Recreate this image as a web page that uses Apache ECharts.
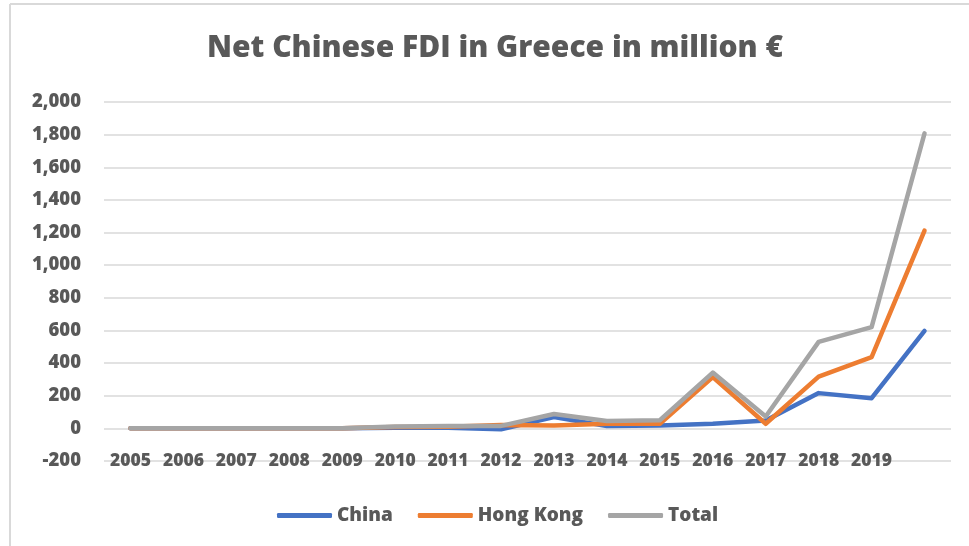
<!DOCTYPE html>
<html>
<head>
<meta charset="utf-8">
<style>
  html, body { margin: 0; padding: 0; background: #ffffff; }
  #chart { width: 969px; height: 546px; }
</style>
<script src="https://cdn.jsdelivr.net/npm/echarts@6/dist/echarts.min.js"></script>
</head>
<body>
<div id="chart"></div>
<script>
// Years on the category axis; the last point has no printed label
const years = ['2005', '2006', '2007', '2008', '2009', '2010', '2011', '2012',
               '2013', '2014', '2015', '2016', '2017', '2018', '2019', ''];

// Net FDI flows, million €
const china    = [0, 0, 0, 0, 0, 3, 4, -6, 69, 15, 17, 28, 48, 216, 185, 597];
const hongKong = [0, 0, 0, 0, 0, 8, 10, 20, 17, 28, 28, 314, 28, 317, 436, 1212];
const total    = [0, 1, 1, 0, 1, 12, 14, 15, 88, 45, 50, 342, 73, 530, 620, 1808];

const yTicks = { min: -200, max: 2000, step: 200 };

const FONT = '"Open Sans"';
const TEXT = '#595959';
const WEIGHT = 800;

const chart = echarts.init(document.getElementById('chart'), null, { renderer: 'canvas' });

function lineSeries(name, data, color) {
  return {
    name: name,
    type: 'line',
    data: data,
    symbol: 'none',
    smooth: false,
    lineStyle: { color: color, width: 4.5, cap: 'round', join: 'round' },
    itemStyle: { color: color },
    emphasis: { disabled: true }
  };
}

chart.setOption({
  backgroundColor: '#ffffff',
  animation: false,
  title: {
    text: 'Net Chinese FDI in Greece in million €',
    left: 202,
    top: 28,
    textStyle: { fontFamily: FONT, fontWeight: WEIGHT, fontSize: 30, color: TEXT }
  },
  legend: {
    bottom: 16,
    left: 272,
    icon: 'roundRect',
    itemWidth: 55,
    itemHeight: 5,
    itemGap: 25,
    textStyle: { fontFamily: FONT, fontWeight: WEIGHT, fontSize: 19, color: TEXT },
    data: ['China', 'Hong Kong', 'Total']
  },
  grid: { left: 104, right: 18, top: 102, bottom: 85 },
  xAxis: {
    type: 'category',
    data: years,
    boundaryGap: true,
    axisLine: { show: false },
    axisTick: { show: false },
    axisLabel: {
      interval: 0,
      margin: 0,
      verticalAlign: 'middle',
      fontFamily: FONT, fontWeight: WEIGHT, fontSize: 17.5, color: TEXT
    }
  },
  yAxis: {
    type: 'value',
    min: yTicks.min,
    max: yTicks.max,
    interval: yTicks.step,
    axisLine: { show: false },
    axisTick: { show: false },
    splitLine: { lineStyle: { color: '#d9d9d9', width: 1.5 } },
    axisLabel: {
      margin: 23,
      fontFamily: FONT, fontWeight: WEIGHT, fontSize: 18.5, color: TEXT,
      formatter: v => v.toLocaleString('en-US')
    }
  },
  series: [
    lineSeries('China', china, '#4472C4'),
    lineSeries('Hong Kong', hongKong, '#ED7D31'),
    lineSeries('Total', total, '#A5A5A5')
  ],
  graphic: [
    { type: 'line', shape: { x1: 10, y1: 4, x2: 969, y2: 4 }, style: { stroke: '#d9d9d9', lineWidth: 2 }, silent: true },
    { type: 'line', shape: { x1: 10, y1: 4, x2: 10, y2: 546 }, style: { stroke: '#d9d9d9', lineWidth: 2 }, silent: true }
  ]
});
</script>
</body>
</html>
